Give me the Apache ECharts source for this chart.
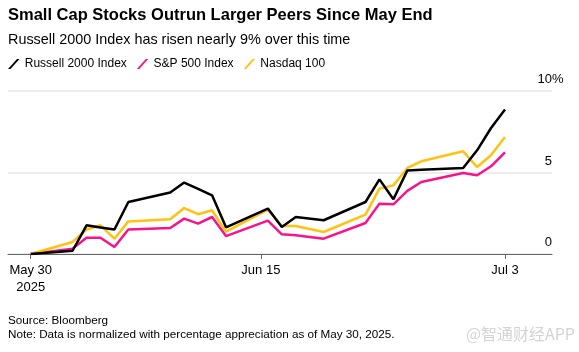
<!DOCTYPE html>
<html>
<head>
<meta charset="utf-8">
<script src="https://cdn.jsdelivr.net/npm/echarts@6/dist/echarts.min.js"></script>
<style>
  html, body { margin: 0; padding: 0; background: #fff; }
  #chart { width: 579px; height: 352px; }
</style>
</head>
<body>
<div id="chart"></div>
<script>
// trading days, weekends and Juneteenth are skipped
const dates = [
  '2025-05-30', '2025-06-02', '2025-06-03', '2025-06-04', '2025-06-05', '2025-06-06',
  '2025-06-09', '2025-06-10', '2025-06-11', '2025-06-12', '2025-06-13',
  '2025-06-16', '2025-06-17', '2025-06-18', '2025-06-20',
  '2025-06-23', '2025-06-24', '2025-06-25', '2025-06-26', '2025-06-27',
  '2025-06-30', '2025-07-01', '2025-07-02', '2025-07-03'
]
const russell = [0, 0.2, 1.76, 1.63, 1.5, 3.19, 3.77, 4.38, 4.0, 3.6, 1.64,
  2.79, 1.66, 2.27, 2.07, 3.19, 4.58, 3.36, 5.13, 5.17, 5.28, 6.36, 7.73, 8.86]
const sp500 = [0, 0.33, 1.0, 1.0, 0.43, 1.5, 1.6, 2.17, 1.86, 2.27, 1.1,
  2.05, 1.21, 1.15, 0.94, 1.9, 3.09, 3.05, 3.87, 4.42, 4.97, 4.83, 5.38, 6.24]
const nasdaq = [0, 0.74, 1.5, 1.76, 0.94, 2.0, 2.13, 2.82, 2.44, 2.68, 1.37,
  2.72, 1.72, 1.72, 1.35, 2.42, 4.01, 4.21, 5.28, 5.69, 6.3, 5.34, 6.06, 7.18]

const tickDates = ['2025-05-30T00:00:00Z', '2025-06-15T12:00:00Z', '2025-07-03T00:00:00Z']
const tickLabels = ['May 30\n2025', 'Jun 15', 'Jul 3']

const DAY = 86400000
const font = "'Liberation Sans', Arial, sans-serif"
const slash = 'path://M0,10 L9,0 L11.5,0 L2.5,10 Z'

// x is days since the first date
const start = Date.parse(dates[0])
const dayOf = d => (Date.parse(d) - start) / DAY
const tickValues = tickDates.map(dayOf)
const pairs = vals => dates.map((d, i) => [dayOf(d), vals[i]])

const chart = echarts.init(document.getElementById('chart'))

chart.setOption({
  animation: false,
  textStyle: { fontFamily: font },
  title: [
    {
      text: 'Small Cap Stocks Outrun Larger Peers Since May End',
      left: 8, top: 7, padding: 0,
      textStyle: { fontSize: 16.5, fontWeight: 'bold', color: '#000', fontFamily: font }
    },
    {
      text: 'Russell 2000 Index has risen nearly 9% over this time',
      left: 8, top: 33, padding: 0,
      textStyle: { fontSize: 14.4, fontWeight: 'normal', color: '#000', fontFamily: font }
    },
    {
      text: 'Source: Bloomberg\nNote: Data is normalized with percentage appreciation as of May 30, 2025.',
      left: 8, top: 314, padding: 0,
      textStyle: { fontSize: 11.7, fontWeight: 'normal', color: '#000', lineHeight: 14, fontFamily: font }
    },
    {
      text: '@智通财经APP',
      right: 4, top: 326, padding: 0,
      textStyle: { fontSize: 16, fontWeight: 'normal', color: '#d4d4d4', fontFamily: "'Noto Sans CJK SC', sans-serif" }
    }
  ],
  legend: {
    left: 8, top: 58, padding: 0,
    itemWidth: 12, itemHeight: 10,
    itemGap: 10,
    icon: slash,
    textStyle: { fontSize: 12, color: '#000', fontFamily: font },
    data: ['Russell 2000 Index', 'S&P 500 Index', 'Nasdaq 100']
  },
  grid: { left: 8, right: 27, top: 91, bottom: 98 },
  xAxis: {
    type: 'value',
    min: v => v.min - 1.63,
    max: v => v.max + 3.37,
    axisLine: { lineStyle: { color: '#666', width: 1 } },
    axisTick: { customValues: tickValues, length: 5, lineStyle: { color: '#666' } },
    axisLabel: {
      customValues: tickValues,
      formatter: v => tickLabels[tickValues.indexOf(v)],
      color: '#000', fontSize: 13, lineHeight: 17, margin: 8,
      fontFamily: font
    },
    splitLine: { show: false }
  },
  yAxis: {
    type: 'value',
    position: 'right',
    min: 0, max: 10, interval: 5,
    // the % sign hangs past the right edge, after the top number
    name: '%',
    nameLocation: 'end',
    nameGap: 5,
    nameMoveOverlap: false,
    nameTextStyle: { align: 'left', verticalAlign: 'bottom', fontSize: 13, lineHeight: 13, color: '#000', fontFamily: font },
    axisLine: { show: false, onZero: false },
    axisTick: { show: false },
    axisLabel: {
      inside: true, margin: 0,
      verticalAlign: 'bottom', lineHeight: 13, padding: [0, 0, 5, 0],
      fontSize: 13, color: '#000', fontFamily: font
    },
    splitLine: { lineStyle: { color: '#e6e6e6', width: 1.5 } }
  },
  series: [
    {
      name: 'S&P 500 Index', type: 'line', data: pairs(sp500),
      showSymbol: false, color: '#f7138b',
      lineStyle: { width: 2.5, color: '#f7138b' }
    },
    {
      name: 'Nasdaq 100', type: 'line', data: pairs(nasdaq),
      showSymbol: false, color: '#ffc20e',
      lineStyle: { width: 2.5, color: '#ffc20e' }
    },
    {
      name: 'Russell 2000 Index', type: 'line', data: pairs(russell),
      showSymbol: false, color: '#000',
      lineStyle: { width: 2.5, color: '#000' }
    }
  ]
})
</script>
</body>
</html>
